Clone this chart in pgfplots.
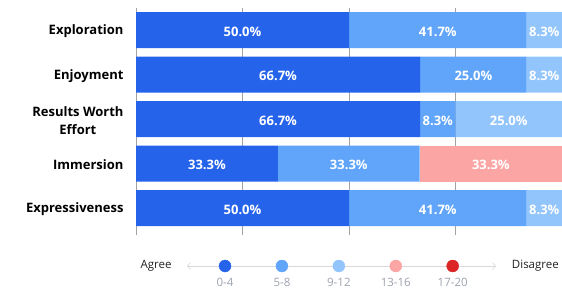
\documentclass[border=0pt]{standalone}
\usepackage{pgfplots}
\pgfplotsset{compat=1.18}
\usepackage{fontspec}
\setmainfont{Open Sans}
\usetikzlibrary{arrows.meta}
\definecolor{cA}{HTML}{2563EB}
\definecolor{cB}{HTML}{60A5FA}
\definecolor{cC}{HTML}{93C5FD}
\definecolor{cD}{HTML}{FCA5A5}
\definecolor{cE}{HTML}{DC2626}
\definecolor{gridc}{HTML}{A3A3A3}
\definecolor{linec}{HTML}{D9D9D9}
\definecolor{labc}{HTML}{9CA3AF}
\definecolor{txtc}{HTML}{222222}
\begin{document}
\begin{tikzpicture}
\useasboundingbox (0,0) rectangle (562pt,290pt);
\pgfplotsset{mainax/.style={
  at={(136pt,282.25pt)}, anchor=north west,
  scale only axis, width=426pt, height=227pt,
  xmin=0, xmax=100, ymin=-0.5, ymax=4.6, y dir=reverse}}
\begin{axis}[mainax,
  xbar stacked, bar width=36pt,
  axis line style={draw=none}, major tick length=0pt,
  xtick={0,25,50,75,100}, xticklabels={},
  xmajorgrids, grid style={gridc, line width=0.8pt},
  ytick={0,1,2,3,4},
  yticklabels={Exploration, Enjoyment, {Results Worth\\Effort}, Immersion, Expressiveness},
  yticklabel style={align=center, text=black, font=\bfseries\fontsize{13}{17.5}\selectfont, xshift=-9pt, yshift=-1.5pt},
]
\addplot[fill=cA, draw=none] coordinates {(50,0) (66.7,1) (66.7,2) (33.3,3) (50,4)};
\addplot[fill=cB, draw=none] coordinates {(41.7,0) (25,1) (8.3,2) (33.3,3) (41.7,4)};
\addplot[fill=cC, draw=none] coordinates {(8.3,0) (8.3,1) (25,2) (0,3) (8.3,4)};
\addplot[fill=cD, draw=none] coordinates {(0,0) (0,1) (0,2) (33.4,3) (0,4)};
\end{axis}
\begin{axis}[mainax, hide axis, clip=false]
\addplot[only marks, mark=none, draw=none, point meta=explicit symbolic,
  nodes near coords,
  nodes near coords style={anchor=center, yshift=-1.5pt, text=white, font=\bfseries\fontsize{13}{15}\selectfont}]
  coordinates {
  (25,0) [50.0\%] (70.85,0) [41.7\%] (95.85,0) [8.3\%]
  (33.35,1) [66.7\%] (79.2,1) [25.0\%] (95.85,1) [8.3\%]
  (33.35,2) [66.7\%] (70.85,2) [8.3\%] (87.5,2) [25.0\%]
  (16.65,3) [33.3\%] (49.95,3) [33.3\%] (83.3,3) [33.3\%]
  (25,4) [50.0\%] (70.85,4) [41.7\%] (95.85,4) [8.3\%]
  };
\end{axis}
\begin{axis}[at={(187pt,24pt)}, anchor=west, scale only axis, width=309pt, height=20pt,
  xmin=0.332, xmax=5.761, ymin=-1, ymax=1, hide axis, clip=false,
  every node near coord/.style={anchor=center, yshift=-16pt, text=labc, font=\fontsize{11.5}{13}\selectfont}]
\addplot[linec, line width=0.7pt, {Straight Barb[length=3pt,width=7pt]}-{Straight Barb[length=3pt,width=7pt]}] coordinates {(0.332,0) (5.761,0)};
\addplot[only marks, mark=*, mark size=6pt, color=cA, nodes near coords={0-4}] coordinates {(1,0)};
\addplot[only marks, mark=*, mark size=6pt, color=cB, nodes near coords={5-8}] coordinates {(2,0)};
\addplot[only marks, mark=*, mark size=6pt, color=cC, nodes near coords={9-12}] coordinates {(3,0)};
\addplot[only marks, mark=*, mark size=6pt, color=cD, nodes near coords={13-16}] coordinates {(4,0)};
\addplot[only marks, mark=*, mark size=6pt, color=cE, nodes near coords={17-20}] coordinates {(5,0)};
\end{axis}
\node[text=txtc, font=\fontsize{11.5}{13}\selectfont] at (156pt,24pt) {Agree};
\node[anchor=east, inner sep=0pt, text=txtc, font=\fontsize{11.5}{13}\selectfont] at (559pt,24pt) {Disagree};
\end{tikzpicture}
\end{document}
